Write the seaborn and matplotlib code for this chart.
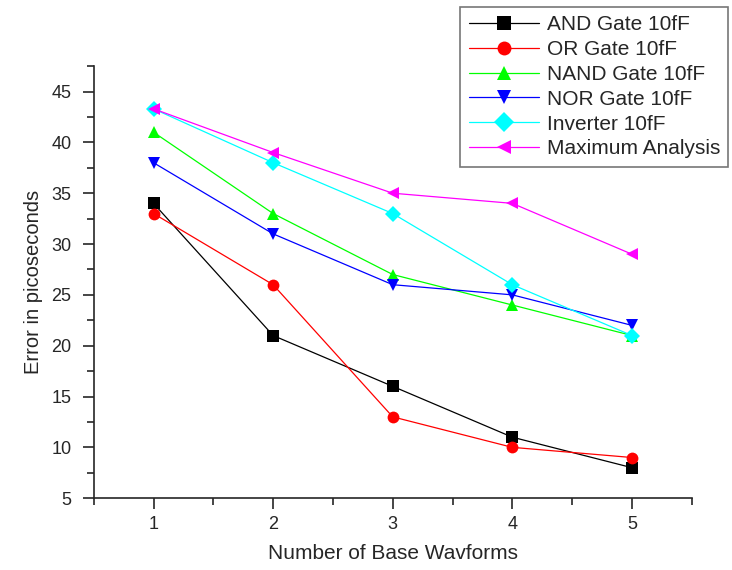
import pandas as pd
import matplotlib.pyplot as plt
import seaborn as sns
from matplotlib.ticker import MultipleLocator

# data
waveforms = [1, 2, 3, 4, 5]
and_gate = [34, 21, 16, 11, 8]
or_gate = [33, 26, 13, 10, 9]
nand_gate = [41, 33, 27, 24, 21]
nor_gate = [38, 31, 26, 25, 22]
inverter = [43.3, 38, 33, 26, 21]
max_analysis = [43.3, 39, 35, 34, 29]

series = {
    'AND Gate 10fF': and_gate,
    'OR Gate 10fF': or_gate,
    'NAND Gate 10fF': nand_gate,
    'NOR Gate 10fF': nor_gate,
    'Inverter 10fF': inverter,
    'Maximum Analysis': max_analysis,
}
colors = ['black', 'red', '#00ff00', 'blue', 'cyan', 'magenta']
markers = ['s', 'o', '^', 'v', 'D', '<']

rows = []
for name, vals in series.items():
    for x, y in zip(waveforms, vals):
        rows.append({'n': x, 'err': y, 'series': name})
df = pd.DataFrame(rows)

sns.set_style("ticks")
plt.rcParams['font.family'] = ['Liberation Sans', 'DejaVu Sans']

fig = plt.figure(figsize=(7.32, 5.70), dpi=100)
ax = fig.add_axes([0.128, 0.126, 0.817, 0.758])

names = list(series.keys())
sns.lineplot(data=df, x='n', y='err', hue='series', style='series',
             hue_order=names, style_order=names,
             palette=dict(zip(names, colors)),
             markers=dict(zip(names, markers)), dashes=False,
             markersize=8.5, markeredgewidth=0, linewidth=0.9, ax=ax)

ax.set_xlim(0.5, 5.5)
ax.xaxis.set_major_locator(MultipleLocator(1))
ax.xaxis.set_minor_locator(MultipleLocator(0.5))
ax.yaxis.set_major_locator(MultipleLocator(5))
ax.yaxis.set_minor_locator(MultipleLocator(2.5))
ax.set_ylim(5, 47.5)
ax.tick_params(which='major', direction='out', length=8, width=1.2, labelsize=13)
ax.tick_params(axis='x', which='major', pad=5)
ax.tick_params(axis='y', which='major', pad=8)
ax.tick_params(which='minor', direction='out', length=5, width=1.2)
sns.despine(ax=ax)
for s in ['left', 'bottom']:
    ax.spines[s].set_linewidth(1.2)

ax.set_xlabel('Number of Base Wavforms', fontsize=15, labelpad=8)
ax.set_ylabel('Error in picoseconds', fontsize=14.5, labelpad=6)

handles, labels = ax.get_legend_handles_labels()
ax.get_legend().remove()
for h in handles:
    h.set_markersize(10)
leg = fig.legend(handles, labels, loc='upper right', bbox_to_anchor=(0.995, 0.988),
                 fontsize=15, frameon=True, fancybox=False, edgecolor='#555555',
                 handlelength=3.4, handletextpad=0.35, labelspacing=0.28,
                 borderpad=0.4, borderaxespad=0.0)
leg.get_frame().set_linewidth(1.2)

fig.savefig('out.png', dpi=100)
